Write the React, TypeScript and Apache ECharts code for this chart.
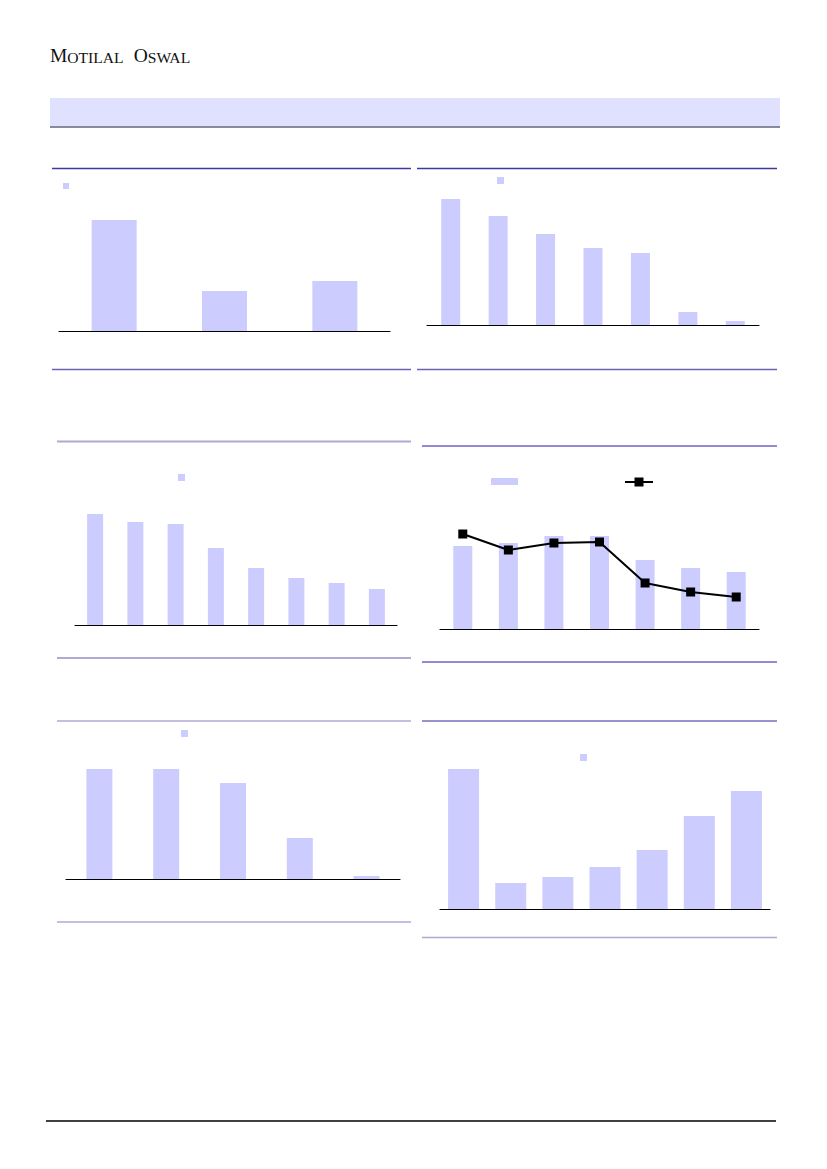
import React, { useEffect, useRef } from "react";
import * as echarts from "echarts";

// Panel categories (labels are not shown in the reference)
const cats1 = ["C1", "C2", "C3"];
const cats2 = ["C1", "C2", "C3", "C4", "C5", "C6", "C7"];
const cats3 = ["C1", "C2", "C3", "C4", "C5", "C6", "C7", "C8"];
const cats4 = ["C1", "C2", "C3", "C4", "C5", "C6", "C7"];
const cats5 = ["C1", "C2", "C3", "C4", "C5"];
const cats6 = ["C1", "C2", "C3", "C4", "C5", "C6", "C7"];

// Series values
const values1 = [11.1, 4.0, 5.0];
const values2 = [12.6, 10.9, 9.1, 7.7, 7.2, 1.3, 0.4];
const values3 = [11.1, 10.3, 10.1, 7.7, 5.7, 4.7, 4.2, 3.6];
const values4Bar = [8.3, 8.6, 9.3, 9.3, 6.9, 6.1, 5.7];
const values4Line = [9.5, 7.9, 8.6, 8.7, 4.6, 3.7, 3.2];
const values5 = [11.0, 11.0, 9.6, 4.1, 0.3];
const values6 = [14.0, 2.6, 3.2, 4.2, 5.9, 9.3, 11.8];

const BAR = "#ccccff";

const panels = [
  { cats: cats1, left: 59, top: 181, width: 331, height: 150, barWidth: 45 },
  { cats: cats2, left: 427, top: 175, width: 332, height: 150, barWidth: 19 },
  { cats: cats3, left: 75, top: 475, width: 322, height: 150, barWidth: 16 },
  { cats: cats4, left: 440, top: 479, width: 319, height: 150, barWidth: 19 },
  { cats: cats5, left: 66, top: 729, width: 334, height: 150, barWidth: 26 },
  { cats: cats6, left: 440, top: 759, width: 330, height: 150, barWidth: 31 },
];
const barData = [values1, values2, values3, values4Bar, values5, values6];

function hline(x1: number, x2: number, y: number, color: string, w: number) {
  return {
    type: "line",
    shape: { x1, y1: y, x2, y2: y },
    style: { stroke: color, lineWidth: w },
    silent: true,
  };
}
function marker(x: number, y: number, w: number, h: number, color: string) {
  return { type: "rect", shape: { x, y, width: w, height: h }, style: { fill: color }, silent: true };
}

export default function App() {
  const ref = useRef<HTMLDivElement>(null);
  useEffect(() => {
    if (!ref.current) return;
    const chart = echarts.init(ref.current, undefined, { renderer: "svg" });
    const serif = "'Liberation Serif', 'DejaVu Serif', serif";
    const dark = "#3d3a9c";
    const mid = "#6a64b8";
    const light = "#aeaad6";
    const option: any = {
      animation: false,
      backgroundColor: "#ffffff",
      grid: panels.map((p) => ({ left: p.left, top: p.top, width: p.width, height: p.height, containLabel: false })),
      xAxis: panels.map((p, i) => ({
        type: "category",
        gridIndex: i,
        data: p.cats,
        axisLine: { show: true, lineStyle: { color: "#000", width: 1.2 } },
        axisTick: { show: false },
        axisLabel: { show: false },
        splitLine: { show: false },
      })),
      yAxis: panels.map((p, i) => ({
        type: "value",
        gridIndex: i,
        min: 0,
        max: 15,
        show: false,
        splitLine: { show: false },
      })),
      series: [
        ...panels.map((p, i) => ({
          type: "bar",
          xAxisIndex: i,
          yAxisIndex: i,
          data: barData[i],
          barWidth: p.barWidth,
          itemStyle: { color: BAR },
        })),
        {
          type: "line",
          xAxisIndex: 3,
          yAxisIndex: 3,
          data: values4Line,
          symbol: "rect",
          symbolSize: 9,
          itemStyle: { color: "#000" },
          lineStyle: { color: "#000", width: 2 },
          z: 5,
        },
      ],
      graphic: [
        {
          type: "text",
          left: 50,
          top: 45,
          style: {
            text: "{a|M}{b|OTILAL}{s| }{a|O}{b|SWAL}",
            fill: "#111",
            rich: {
              a: { fontFamily: serif, fontSize: 19.5, verticalAlign: "bottom", lineHeight: 20, fill: "#111" },
              b: { fontFamily: serif, fontSize: 15.6, verticalAlign: "bottom", lineHeight: 20, fill: "#111" },
              s: { fontFamily: serif, fontSize: 15.6, width: 10, lineHeight: 20 },
            },
          },
        },
        marker(50, 98, 730, 28.5, "#e0e0ff"),
        hline(50, 780, 127, "#666677", 1.5),
        // panel 1
        hline(52, 411, 168.5, dark, 1.5),
        hline(52, 411, 369.5, mid, 1.5),
        marker(63, 183, 6, 6, BAR),
        // panel 2
        hline(417, 777, 168.5, dark, 1.5),
        hline(417, 777, 369.5, mid, 1.5),
        marker(497, 177, 7, 7, BAR),
        // panel 3
        hline(57, 411, 441.5, light, 2),
        hline(57, 411, 658, light, 2),
        marker(178, 474, 7, 7, BAR),
        // panel 4
        hline(422, 777, 446, "#6c64c8", 1.5),
        hline(422, 777, 662, "#6c64c8", 1.5),
        marker(491, 478, 27, 7, BAR),
        hline(625, 653, 482, "#000", 2),
        marker(634.5, 477.5, 9, 9, "#000"),
        // panel 5
        hline(57, 411, 721, light, 1.5),
        hline(57, 411, 922, light, 1.5),
        marker(181, 730, 7, 7, BAR),
        // panel 6
        hline(422, 777, 721, "#7470bc", 1.5),
        hline(422, 777, 937.5, light, 1.5),
        marker(580, 754, 7, 7, BAR),
        // footer
        hline(46, 776, 1121, "#000", 1.5),
      ],
    };
    chart.setOption(option);
    return () => chart.dispose();
  }, []);
  return (
    <div
      ref={ref}
      style={{ position: "absolute", left: 0, top: 0, width: 827, height: 1169 }}
    />
  );
}
